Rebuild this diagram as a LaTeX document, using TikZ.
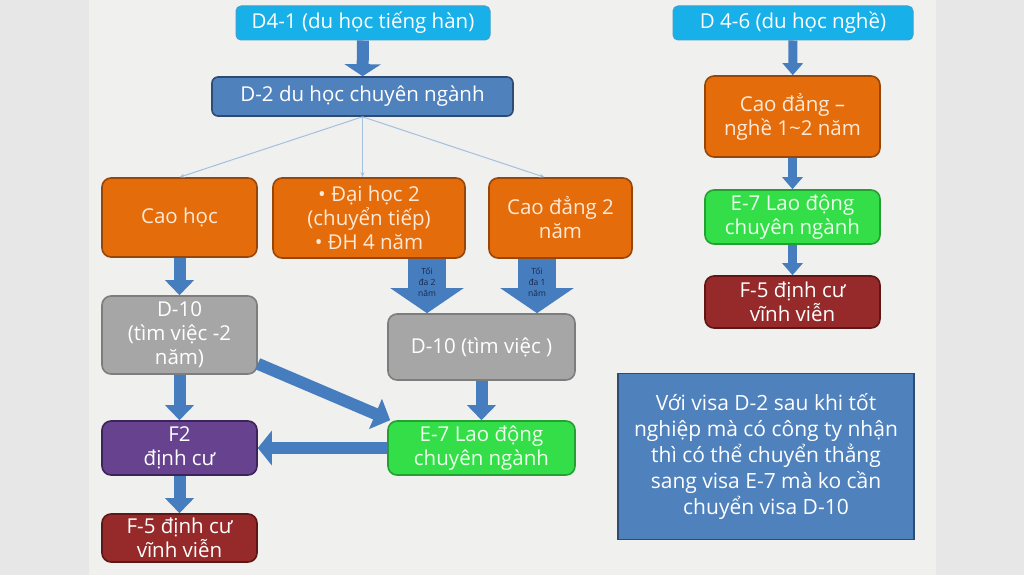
\documentclass[tikz,border=0pt]{standalone}
\usepackage{fontspec}
\setmainfont{Open Sans}
\usetikzlibrary{arrows.meta,calc}

\definecolor{margingrey}{RGB}{231,231,231}
\definecolor{paper}{RGB}{240,240,238}
\definecolor{skyblue}{RGB}{24,176,232}
\definecolor{skyline}{RGB}{60,160,210}
\definecolor{boxblue}{RGB}{79,129,189}
\definecolor{boxblueline}{RGB}{45,75,115}
\definecolor{arrowblue}{RGB}{70,125,190}
\definecolor{thinblue}{RGB}{165,192,222}
\definecolor{boxorange}{RGB}{228,108,10}
\definecolor{orangeline}{RGB}{150,70,8}
\definecolor{peach}{RGB}{253,233,215}
\definecolor{boxgrey}{RGB}{166,166,166}
\definecolor{greyline}{RGB}{125,125,125}
\definecolor{boxpurple}{RGB}{102,66,143}
\definecolor{purpleline}{RGB}{60,36,90}
\definecolor{boxgreen}{RGB}{52,222,72}
\definecolor{greenline}{RGB}{36,160,50}
\definecolor{boxred}{RGB}{150,42,42}
\definecolor{redline}{RGB}{95,22,22}
\definecolor{tinytext}{RGB}{25,40,75}

\tikzset{
  visabox/.style={rounded corners=9pt, line width=1.6pt, align=center,
    inner sep=0pt, font=\fontsize{20.5}{24}\selectfont},
  cyanbox/.style={visabox, fill=skyblue, draw=skyline, text=white,
    rounded corners=5pt, line width=1pt},
  bluebox/.style={visabox, fill=boxblue, draw=boxblueline, text=white,
    rounded corners=6pt},
  orangebox/.style={visabox, fill=boxorange, draw=orangeline, text=peach},
  greybox/.style={visabox, fill=boxgrey, draw=greyline, text=white},
  purplebox/.style={visabox, fill=boxpurple, draw=purpleline, text=white},
  greenbox/.style={visabox, fill=boxgreen, draw=greenline, text=white!92!green},
  redbox/.style={visabox, fill=boxred, draw=redline, text=white},
  fatarrow/.style={arrowblue, line width=12pt,
    -{Triangle[length=15pt,width=28pt]}},
  slimarrow/.style={arrowblue, line width=9pt,
    -{Triangle[length=12pt,width=20pt]}},
  blockarrow/.style={arrowblue, line width=38pt,
    -{Triangle[length=25pt,width=72pt]}},
  treeline/.style={thinblue, line width=1pt, -{Stealth[length=5pt,width=4pt]}},
}

\begin{document}
\begin{tikzpicture}[x=1pt,y=-1pt]
  % BACKGROUND
  \fill[margingrey] (0,0) rectangle (1024,575);
  \fill[paper] (89,0) rectangle (936,575);

  % D-2 BRANCH
  \node[cyanbox, minimum width=254pt, minimum height=34pt] (d41) at (363,23)
    {D4-1 (du học tiếng hàn)};
  \node[bluebox, minimum width=301pt, minimum height=39pt] (d2) at (362.5,96.5)
    {D-2 du học chuyên ngành};
  \node[orangebox, minimum width=155pt, minimum height=79pt] (caohoc) at (179.5,217.5)
    {Cao học};
  \node[orangebox, minimum width=192pt, minimum height=80pt] (daihoc) at (369,218)
    {• Đại học 2\\(chuyển tiếp)\\• ĐH 4 năm};
  \node[orangebox, minimum width=143pt, minimum height=80pt] (caodang) at (560.5,218)
    {Cao đẳng 2\\năm};
  \node[greybox, minimum width=155pt, minimum height=78pt] (d10a) at (179.5,335)
    {D-10\\(tìm việc -2\\năm)};
  \node[greybox, minimum width=187pt, minimum height=66pt] (d10b) at (481.5,347)
    {D-10 (tìm việc )};
  \node[purplebox, minimum width=155pt, minimum height=54pt] (f2) at (179.5,448)
    {F2\\định cư};
  \node[greenbox, minimum width=187pt, minimum height=54pt] (e7a) at (481.5,448)
    {E-7 Lao động\\chuyên ngành};
  \node[redbox, minimum width=155pt, minimum height=48pt] (f5a) at (179.5,538)
    {F-5 định cư\\vĩnh viễn};

  \draw[fatarrow, -{Triangle[length=12pt,width=36pt]}] (d41) -- (d2);
  \draw[treeline] (d2.south) -- (caohoc.north);
  \draw[treeline] (d2.south) -- (d2.south |- daihoc.north);
  \draw[treeline] (d2.south) -- ([xshift=-16pt]caodang.north);
  \draw[fatarrow] (caohoc) -- (d10a);
  \draw[blockarrow] ([xshift=58pt]daihoc.south) -- ([xshift=-54.5pt]d10b.north)
    node[pos=0.42, text=tinytext, align=center, font=\fontsize{8.5}{11}\selectfont] {Tối\\đa 2\\năm};
  \draw[blockarrow] ([xshift=-23.5pt]caodang.south) -- ([xshift=55.5pt]d10b.north)
    node[pos=0.42, text=tinytext, align=center, font=\fontsize{8.5}{11}\selectfont] {Tối\\đa 1\\năm};
  \draw[fatarrow] (d10a) -- (f2);
  \draw[fatarrow, -{Triangle[length=16pt,width=32pt]}]
    ([yshift=11pt]d10a.south east) -- ([xshift=3pt]e7a.north west);
  \draw[fatarrow] (d10b) -- (e7a);
  \draw[fatarrow, -{Triangle[length=14pt,width=34pt]}] (e7a) -- (f2);
  \draw[fatarrow] (f2) -- (f5a);

  % D 4-6 BRANCH
  \node[cyanbox, minimum width=240pt, minimum height=34pt] (d46) at (793,23)
    {D 4-6 (du học nghề)};
  \node[orangebox, minimum width=175pt, minimum height=81pt] (cdnghe) at (792.5,116.5)
    {Cao đẳng –\\nghề 1\textasciitilde2 năm};
  \node[greenbox, minimum width=175pt, minimum height=54pt] (e7b) at (792.5,217)
    {E-7 Lao động\\chuyên ngành};
  \node[redbox, minimum width=175pt, minimum height=52pt] (f5b) at (792.5,302)
    {F-5 định cư\\vĩnh viễn};

  \draw[slimarrow] (d46) -- (cdnghe);
  \draw[slimarrow] (cdnghe) -- (e7b);
  \draw[slimarrow] (e7b) -- (f5b);

  % NOTE
  \node[fill=boxblue, draw=boxblueline, line width=1.6pt, text=white, align=center,
    inner sep=0pt, minimum width=296pt, minimum height=166pt,
    font=\fontsize{21}{26}\selectfont] (note) at (766,456.5)
    {Với visa D-2 sau khi tốt\\nghiệp mà có công ty nhận\\thì có thể chuyển thẳng\\sang visa E-7 mà ko cần\\chuyển visa D-10};
\end{tikzpicture}
\end{document}
